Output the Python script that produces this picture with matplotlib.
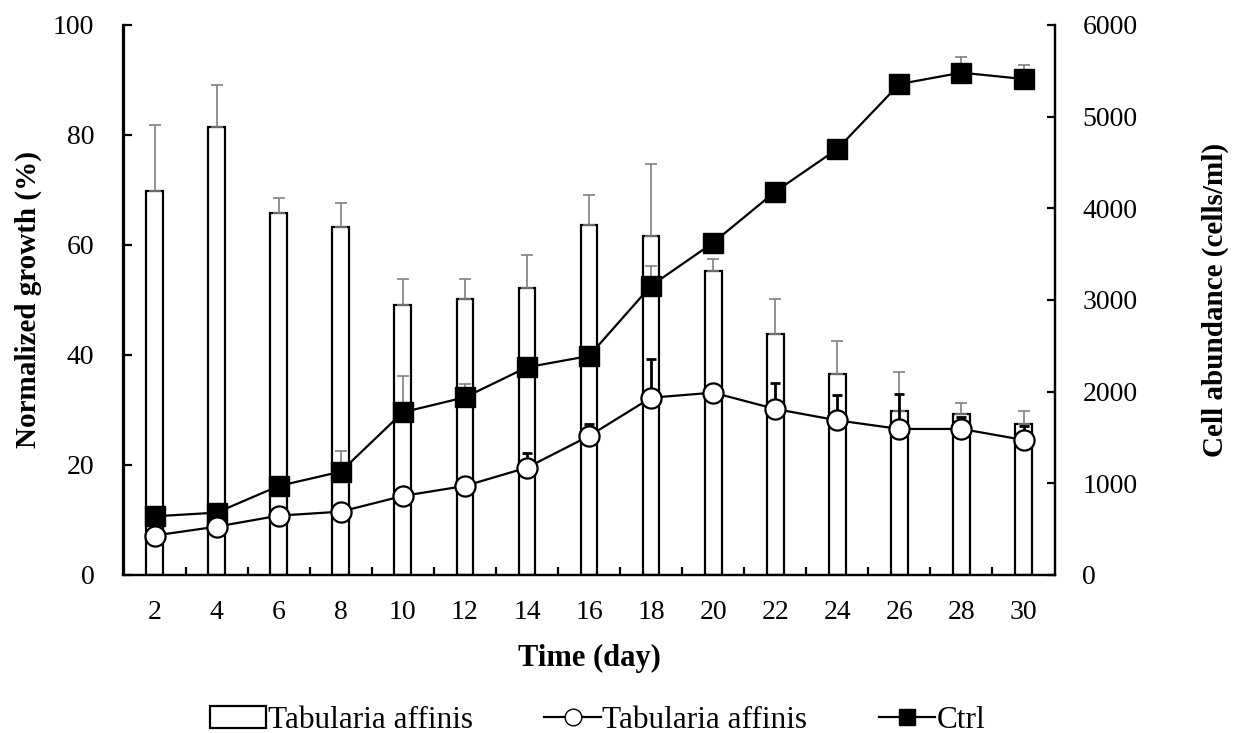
import numpy as np
import matplotlib
matplotlib.use("Agg")
import matplotlib.pyplot as plt
from matplotlib.patches import Patch
from matplotlib.lines import Line2D

plt.rcParams['font.family'] = ['Liberation Serif', 'DejaVu Serif']

days = ['2', '4', '6', '8', '10', '12', '14', '16', '18', '20', '22', '24', '26', '28', '30']

# normalized growth (%) with upper error
growth = [69.8, 81.4, 65.9, 63.2, 49.0, 50.2, 52.2, 63.6, 61.7, 55.3, 43.8, 36.5, 29.9, 29.3, 27.4]
growth_err = [12.0, 7.6, 2.6, 4.4, 4.9, 3.7, 6.0, 5.4, 13.0, 2.1, 6.3, 6.1, 7.0, 1.9, 2.4]

# cell abundance (cells/ml)
tab_cells = [430, 527, 647, 691, 862, 971, 1171, 1516, 1934, 1989, 1811, 1687, 1593, 1593, 1473]
tab_err = [0, 0, 0, 0, 0, 0, 160, 128, 419, 0, 280, 280, 382, 127, 152]
ctrl_cells = [640, 680, 971, 1127, 1775, 1938, 2266, 2389, 3156, 3625, 4182, 4647, 5356, 5480, 5411]
ctrl_err = [0, 0, 0, 226, 396, 146, 0, 0, 216, 0, 0, 0, 0, 175, 150]

x = np.arange(len(days))

fig = plt.figure(figsize=(12.35, 7.33), dpi=100)
ax1 = fig.add_axes([0.1, 0.2156, 0.7539, 0.7503])
ax2 = ax1.twinx()

ax1.bar(x, growth, width=0.27, color='white', edgecolor='black', linewidth=1.6, zorder=2)
ax1.errorbar(x, growth, yerr=[np.zeros(len(x)), growth_err], fmt='none',
             ecolor='#808080', elinewidth=1.2, capsize=4.6, capthick=1.2, zorder=3)

ax2.errorbar(x, ctrl_cells, yerr=[np.zeros(len(x)), ctrl_err], fmt='none',
             ecolor='#808080', elinewidth=1.2, capsize=4.6, capthick=1.2, zorder=2)
ax2.plot(x, ctrl_cells, color='black', linewidth=1.6, marker='s', markersize=15,
         markerfacecolor='black', markeredgecolor='black', zorder=3)
ax2.errorbar(x, tab_cells, yerr=[np.zeros(len(x)), tab_err], fmt='none',
             ecolor='black', elinewidth=2.0, capsize=3.8, capthick=2.0, zorder=2)
ax2.plot(x, tab_cells, color='black', linewidth=1.6, marker='o', markersize=14.5,
         markerfacecolor='white', markeredgecolor='black', markeredgewidth=1.6, zorder=4)

ax1.set_xlim(-0.5, len(x) - 0.5)
ax1.set_ylim(0, 100)
ax2.set_ylim(0, 6000)
ax1.set_yticks(np.arange(0, 101, 20))
ax2.set_yticks(np.arange(0, 6001, 1000))
ax1.set_xticks(x)
ax1.set_xticklabels(days)
ax1.set_xticks(np.arange(0.5, len(x) - 1, 1.0), minor=True)

ax1.tick_params(axis='x', which='major', length=0, pad=18, labelsize=20)
ax1.tick_params(axis='x', which='minor', direction='in', length=6, width=1.6)
ax1.tick_params(axis='y', direction='in', length=6, width=1.6, pad=21, labelsize=20)
ax2.tick_params(axis='y', direction='in', length=6, width=1.6, pad=20, labelsize=20)

for ax in (ax1, ax2):
    ax.spines['top'].set_visible(False)
    for s in ('left', 'right', 'bottom'):
        ax.spines[s].set_linewidth(1.6)
ax1.set_zorder(ax2.get_zorder() - 1)
ax2.patch.set_visible(False)

ax1.set_xlabel('Time (day)', fontsize=22, fontweight='bold')
ax1.set_ylabel('Normalized growth (%)', fontsize=21, fontweight='bold')
ax2.set_ylabel('Cell abundance (cells/ml)', fontsize=21, fontweight='bold')
ax1.xaxis.set_label_coords(0.5, -0.125)
ax1.yaxis.set_label_coords(-0.088, 0.5)
ax2.yaxis.set_label_coords(1.158, 0.5)

handles = [
    Patch(facecolor='white', edgecolor='black', linewidth=1.6, label='Tabularia affinis'),
    Line2D([], [], color='black', linewidth=1.6, marker='o', markersize=12,
           markerfacecolor='white', markeredgecolor='black', label='Tabularia affinis'),
    Line2D([], [], color='black', linewidth=1.6, marker='s', markersize=12,
           markerfacecolor='black', label='Ctrl'),
]
fig.legend(handles=handles, loc='center', bbox_to_anchor=(0.484, 0.017), ncol=3,
           frameon=False, fontsize=22.5, handlelength=1.8, handletextpad=0.05,
           columnspacing=2.3)

fig.savefig('out.png', dpi=100)
